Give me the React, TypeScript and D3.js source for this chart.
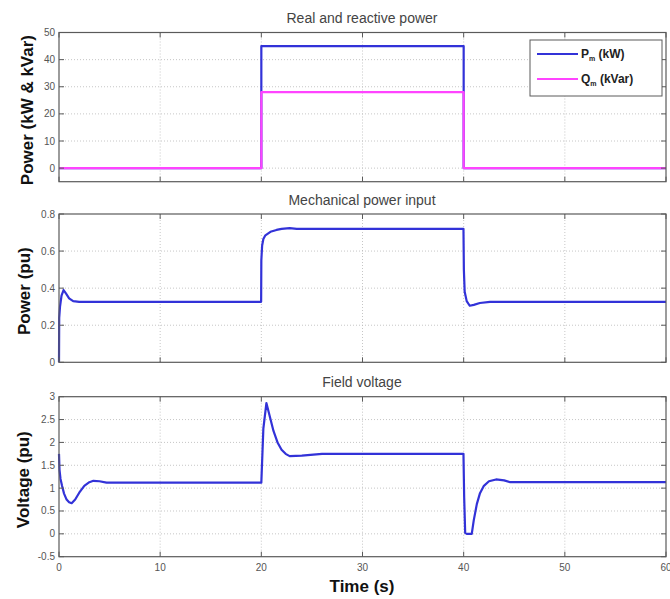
import * as d3 from 'd3'

// x axis shared by all three panels
const timeTicks = [0, 10, 20, 30, 40, 50, 60]

// panel 1: real and reactive power (kW / kVar)
const powerTime = [0, 20, 20, 40, 40, 60]
const realPower = [0, 0, 45, 45, 0, 0]
const reactivePower = [0, 0, 28, 28, 0, 0]
const powerTicks = [0, 10, 20, 30, 40, 50]

// panel 2: mechanical power input (pu)
const mechTime = [0, 0.02, 0.1, 0.25, 0.45, 0.7, 1.0, 1.4, 2.0, 3.0, 19.98, 20.0, 20.08, 20.2, 20.4, 20.9, 21.5, 22.0, 22.8, 23.5, 25.0, 39.98, 40.02, 40.1, 40.3, 40.6, 41.0, 41.6, 42.6, 60]
const mechPower = [0, 0.24, 0.3, 0.36, 0.39, 0.37, 0.345, 0.33, 0.326, 0.326, 0.326, 0.55, 0.63, 0.665, 0.685, 0.704, 0.714, 0.72, 0.724, 0.72, 0.72, 0.72, 0.5, 0.38, 0.33, 0.305, 0.31, 0.32, 0.326, 0.326]
const mechTicks = [0, 0.2, 0.4, 0.6, 0.8]

// panel 3: field voltage (pu)
const fieldTime = [0, 0.05, 0.15, 0.3, 0.5, 0.75, 1.0, 1.25, 1.6, 2.0, 2.5, 3.0, 3.4, 4.0, 4.7, 19.98, 20.0, 20.2, 20.5, 20.8, 21.2, 21.6, 22.0, 22.4, 22.8, 24.0, 26.0, 39.98, 40.05, 40.15, 40.3, 40.8, 41.0, 41.3, 41.6, 42.0, 42.5, 43.2, 44.0, 44.6, 60]
const fieldVoltage = [1.75, 1.4, 1.2, 1.05, 0.88, 0.75, 0.69, 0.67, 0.75, 0.9, 1.05, 1.13, 1.16, 1.15, 1.12, 1.12, 1.12, 2.3, 2.86, 2.6, 2.25, 2.0, 1.84, 1.75, 1.7, 1.71, 1.75, 1.75, 0.8, 0.02, 0.0, 0.0, 0.3, 0.65, 0.88, 1.05, 1.15, 1.19, 1.17, 1.13, 1.13]
const fieldTicks = [-0.5, 0, 0.5, 1, 1.5, 2, 2.5, 3]

const BLUE = '#3232d8'
const MAGENTA = '#ff44ff'
const AXIS = '#5a5a5a'
const FONT = 'Liberation Sans, Arial, sans-serif'

const left = 59
const right = 666
const x = d3.scaleLinear().domain([0, 60]).range([left, right])

type Series = { t: number[]; v: number[]; color: string }

function Panel({ top, bottom, domain, ticks, title, ylabel, labelX, series, showX }: {
  top: number
  bottom: number
  domain: [number, number]
  ticks: number[]
  title: string
  ylabel: string
  labelX: number
  series: Series[]
  showX: boolean
}) {
  const y = d3.scaleLinear().domain(domain).range([bottom, top])
  const tl = 5
  const line = d3.line<[number, number]>().x(d => x(d[0])).y(d => y(d[1]))
  return (
    <g>
      <rect x={left} y={top} width={right - left} height={bottom - top} fill="#fff" />
      {/* grid */}
      {timeTicks.slice(1, -1).map(t => (
        <line key={'gx' + t} x1={x(t)} x2={x(t)} y1={top} y2={bottom} stroke="#b8b8b8" strokeWidth={0.8} strokeDasharray="1,2" />
      ))}
      {ticks.filter(v => v > domain[0] && v < domain[1]).map(v => (
        <line key={'gy' + v} x1={left} x2={right} y1={y(v)} y2={y(v)} stroke="#b8b8b8" strokeWidth={0.8} strokeDasharray="1,2" />
      ))}
      {/* data */}
      {series.map((s, i) => {
        const pts: [number, number][] = s.t.map((t, j) => [t, s.v[j]])
        return <path key={i} d={line(pts) || ''} fill="none" stroke={s.color} strokeWidth={2.2} strokeLinejoin="round" />
      })}
      {/* box and ticks */}
      <rect x={left} y={top} width={right - left} height={bottom - top} fill="none" stroke={AXIS} strokeWidth={1.2} />
      {timeTicks.map(t => (
        <g key={'tx' + t}>
          <line x1={x(t)} x2={x(t)} y1={bottom} y2={bottom - tl} stroke={AXIS} />
          <line x1={x(t)} x2={x(t)} y1={top} y2={top + tl} stroke={AXIS} />
          {showX && (
            <text x={x(t)} y={bottom + 14} textAnchor="middle" fontSize={10} fill="#555" fontFamily={FONT}>{t}</text>
          )}
        </g>
      ))}
      {ticks.map(v => (
        <g key={'ty' + v}>
          <line x1={left} x2={left + tl} y1={y(v)} y2={y(v)} stroke={AXIS} />
          <line x1={right} x2={right - tl} y1={y(v)} y2={y(v)} stroke={AXIS} />
          <text x={left - 4} y={y(v)} dy="0.35em" textAnchor="end" fontSize={10} fill="#555" fontFamily={FONT}>{String(v)}</text>
        </g>
      ))}
      <text x={362} y={top - 9.5} textAnchor="middle" fontSize={14} fill="#444" fontFamily={FONT}>{title}</text>
      <text transform={`translate(${labelX},${(top + bottom) / 2 + 3}) rotate(-90)`} textAnchor="middle" fontSize={17} fontWeight="bold" fill="#111" fontFamily={FONT}>{ylabel}</text>
    </g>
  )
}

export default function App() {
  return (
    <svg width={670} height={599} style={{ position: 'absolute', left: 0, top: 0, background: '#fff' }}>
      <rect width={670} height={599} fill="#fff" />
      <Panel
        top={32.5} bottom={181.7} domain={[-5, 50]} ticks={powerTicks}
        title="Real and reactive power" ylabel="Power (kW & kVar)" labelX={33}
        series={[{ t: powerTime, v: realPower, color: BLUE }, { t: powerTime, v: reactivePower, color: MAGENTA }]}
        showX={false}
      />
      <Panel
        top={214} bottom={362.3} domain={[0, 0.8]} ticks={mechTicks}
        title="Mechanical power input" ylabel="Power (pu)" labelX={30}
        series={[{ t: mechTime, v: mechPower, color: BLUE }]}
        showX={false}
      />
      <Panel
        top={396.7} bottom={556.7} domain={[-0.5, 3]} ticks={fieldTicks}
        title="Field voltage" ylabel="Voltage (pu)" labelX={29}
        series={[{ t: fieldTime, v: fieldVoltage, color: BLUE }]}
        showX={true}
      />
      <text x={362} y={592} textAnchor="middle" fontSize={17} fontWeight="bold" fill="#111" fontFamily={FONT}>Time (s)</text>
      {/* legend */}
      <g fontFamily={FONT}>
        <rect x={530} y={40} width={132} height={56} fill="#fff" stroke={AXIS} strokeWidth={1} />
        <line x1={537} x2={578} y1={54} y2={54} stroke={BLUE} strokeWidth={2.2} />
        <text x={581} y={58} fontSize={12} fontWeight="bold" fill="#222">
          P<tspan fontSize={7} dy={3}>m</tspan><tspan dy={-3}> (kW)</tspan>
        </text>
        <line x1={537} x2={578} y1={79} y2={79} stroke={MAGENTA} strokeWidth={2.2} />
        <text x={581} y={83} fontSize={12} fontWeight="bold" fill="#222">
          Q<tspan fontSize={7} dy={3}>m</tspan><tspan dy={-3}> (kVar)</tspan>
        </text>
      </g>
    </svg>
  )
}
